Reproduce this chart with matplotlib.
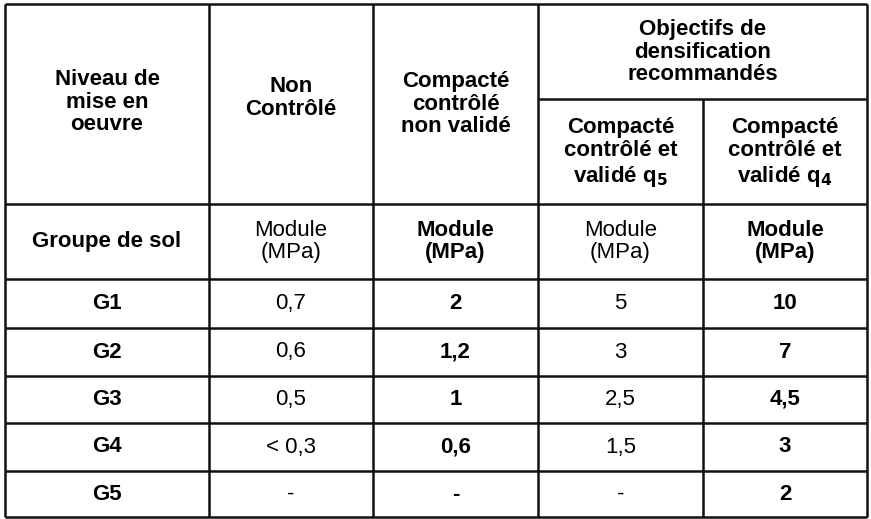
import matplotlib
matplotlib.use("Agg")
import matplotlib.pyplot as plt

groups = ["G1", "G2", "G3", "G4", "G5"]
non_controle = ["0,7", "0,6", "0,5", "< 0,3", "-"]
non_valide = ["2", "1,2", "1", "0,6", "-"]
valide_q5 = ["5", "3", "2,5", "1,5", "-"]
valide_q4 = ["10", "7", "4,5", "3", "2"]

W, H = 871, 519
fig = plt.figure(figsize=(W/100, H/100), dpi=100)
ax = fig.add_axes([0, 0, 1, 1])
ax.set_xlim(0, W); ax.set_ylim(H, 0); ax.axis("off")

cols = [5, 209, 373, 538, 703, 867]
top, sub, hdr, mod = 4, 99, 204, 279
rows = [mod, 328, 376, 423, 471, 517]
lw = 1.8
kw = dict(color="#111111", lw=lw, solid_capstyle="butt")
for y in [top, hdr, mod] + rows[1:]:
    ax.plot([cols[0], cols[-1]], [y, y], **kw)
ax.plot([cols[3], cols[5]], [sub, sub], **kw)
for i, x in enumerate(cols):
    if i == 4:
        ax.plot([x, x], [sub, rows[-1]], **kw)
    else:
        ax.plot([x, x], [top, rows[-1]], **kw)

FS = 16
def cx(i): return (cols[i] + cols[i+1]) / 2
hb = dict(ha="center", va="center", fontsize=FS, fontweight="bold", family="Liberation Sans", linespacing=1.12)
ax.text(cx(0), 102, "Niveau de\nmise en\noeuvre", **hb)
ax.text(cx(1), 98, "Non\nContrôlé", **hb)
ax.text(cx(2), 104, "Compacté\ncontrôlé\nnon validé", **hb)
ax.text((cols[3]+cols[5])/2, 52, "Objectifs de\ndensification\nrecommandés", **hb)
ax.text(cx(3), 153, "Compacté\ncontrôlé et\nvalidé q$_\\mathbf{5}$", **hb)
ax.text(cx(4), 153, "Compacté\ncontrôlé et\nvalidé q$_\\mathbf{4}$", **hb)

ym = (hdr + mod) / 2
ax.text(cx(0), ym, "Groupe de sol", **hb)
bold_cols = [False, True, False, True]
for j in range(4):
    ax.text(cx(j+1), ym, "Module\n(MPa)", ha="center", va="center", fontsize=FS,
            fontweight="bold" if bold_cols[j] else "normal", family="Liberation Sans", linespacing=1.05)

data = [non_controle, non_valide, valide_q5, valide_q4]
for r, g in enumerate(groups):
    yc = (rows[r] + rows[r+1]) / 2
    ax.text(cx(0), yc, g, ha="center", va="center", fontsize=FS, fontweight="bold", family="Liberation Sans")
    for j, col in enumerate(data):
        ax.text(cx(j+1), yc, col[r], ha="center", va="center", fontsize=FS,
                fontweight="bold" if bold_cols[j] else "normal", family="Liberation Sans")

fig.savefig("out.png", dpi=100, facecolor="white")
